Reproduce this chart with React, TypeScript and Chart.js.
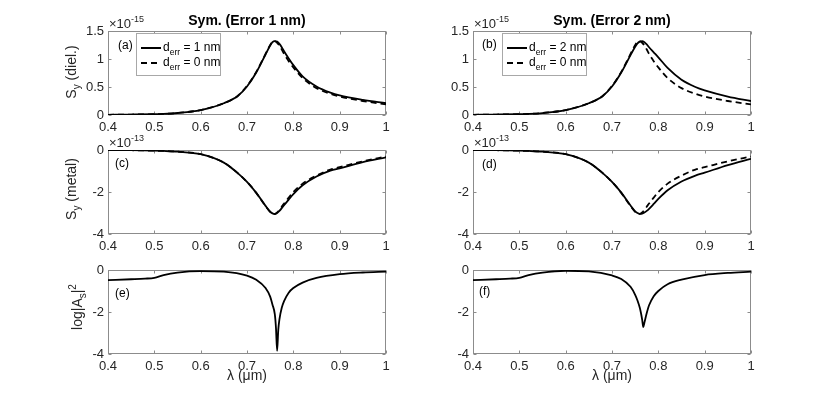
import React, { useEffect, useRef } from "react";
import { Chart, registerables } from "chart.js";
Chart.register(...registerables);

// ---------- data ----------
const lambdaS = [0.40, 0.45, 0.50, 0.52, 0.55, 0.60, 0.65, 0.68, 0.70, 0.72, 0.74, 0.75, 0.755, 0.76, 0.765, 0.77, 0.775, 0.78, 0.79, 0.80, 0.82, 0.85, 0.88, 0.90, 0.95, 1.00];

// S_y (diel.) x 1e-15
const dielErr1 = [0.003, 0.008, 0.015, 0.02, 0.036, 0.088, 0.21, 0.34, 0.51, 0.76, 1.08, 1.24, 1.3, 1.32, 1.31, 1.27, 1.21, 1.14, 1.01, 0.89, 0.69, 0.51, 0.4, 0.35, 0.27, 0.21];
const dielErr0 = [0.003, 0.008, 0.015, 0.02, 0.036, 0.088, 0.21, 0.34, 0.52, 0.77, 1.09, 1.25, 1.31, 1.32, 1.29, 1.24, 1.17, 1.09, 0.96, 0.85, 0.66, 0.48, 0.38, 0.33, 0.25, 0.19];
const dielErr2 = [0.003, 0.008, 0.015, 0.02, 0.035, 0.087, 0.21, 0.34, 0.51, 0.76, 1.07, 1.22, 1.28, 1.31, 1.32, 1.3, 1.26, 1.21, 1.12, 1.03, 0.84, 0.63, 0.5, 0.44, 0.33, 0.25];

// S_y (metal) x 1e-13
const metalErr1 = [0, -0.01, -0.03, -0.045, -0.08, -0.2, -0.6, -1.1, -1.52, -2.04, -2.66, -2.94, -3.02, -3.05, -3.0, -2.9, -2.77, -2.63, -2.36, -2.1, -1.68, -1.26, -0.98, -0.87, -0.58, -0.35];
const metalErr0 = [0, -0.01, -0.03, -0.045, -0.08, -0.2, -0.6, -1.1, -1.52, -2.04, -2.67, -2.95, -3.03, -3.04, -2.97, -2.85, -2.7, -2.55, -2.27, -2.0, -1.6, -1.22, -0.93, -0.82, -0.54, -0.31];
const metalErr2 = [0, -0.01, -0.03, -0.045, -0.08, -0.2, -0.6, -1.1, -1.52, -2.03, -2.64, -2.92, -3.0, -3.04, -3.03, -2.98, -2.9, -2.8, -2.57, -2.33, -1.92, -1.5, -1.22, -1.08, -0.72, -0.42];

const lambdaA = [0.40, 0.45, 0.48, 0.50, 0.52, 0.55, 0.60, 0.65, 0.70, 0.72, 0.74, 0.75, 0.755, 0.76, 0.7625, 0.765, 0.7675, 0.77, 0.775, 0.78, 0.79, 0.80, 0.82, 0.85, 0.90, 0.95, 1.00];
// log|A_s|^2
const logAErr1 = [-0.48, -0.44, -0.41, -0.37, -0.24, -0.12, -0.05, -0.08, -0.27, -0.47, -0.86, -1.27, -1.65, -2.1, -2.75, -3.85, -2.85, -2.35, -1.8, -1.48, -1.08, -0.86, -0.6, -0.38, -0.2, -0.12, -0.08];
const logAErr2 = [-0.48, -0.44, -0.41, -0.37, -0.24, -0.12, -0.04, -0.07, -0.26, -0.43, -0.8, -1.18, -1.45, -1.8, -2.05, -2.35, -2.72, -2.5, -2.05, -1.68, -1.25, -1.0, -0.68, -0.46, -0.24, -0.14, -0.08];

const xTicks = [0.4, 0.5, 0.6, 0.7, 0.8, 0.9, 1.0];
const yTicksDiel = [0, 0.5, 1, 1.5];
const yTicksMetal = [-4, -2, 0];
const yTicksLog = [-4, -2, 0];

// ---------- layout ----------
const FONT = '"Liberation Sans", Arial, Helvetica, sans-serif';
const TXT = "#262626";
const PW = 278;
const PH = 84;
const COLS = [108, 473];
const ROWS = [31, 150, 270];
const ML = 50, MR = 8, MT = 6, MB = 24;
const LW = 1.8;

const fmt = (v: number) => String(Number(v.toFixed(2)));

const boxPlugin = {
  id: "matlabBox",
  beforeDatasetsDraw(chart: any) {
    const { ctx, chartArea: a, scales } = chart;
    const x = scales.x, y = scales.y;
    const L = Math.round(a.left) + 0.5, R = Math.round(a.right) - 0.5;
    const T = Math.round(a.top) + 0.5, B = Math.round(a.bottom) - 0.5;
    ctx.save();
    ctx.strokeStyle = "#8c8c8c";
    ctx.lineWidth = 1;
    ctx.strokeRect(L, T, R - L, B - T);
    ctx.beginPath();
    const tl = 3;
    x.ticks.forEach((t: any) => {
      const px = Math.round(x.getPixelForValue(t.value)) + 0.5;
      ctx.moveTo(px, B); ctx.lineTo(px, B - tl);
      ctx.moveTo(px, T); ctx.lineTo(px, T + tl);
    });
    y.ticks.forEach((t: any) => {
      const py = Math.round(y.getPixelForValue(t.value)) + 0.5;
      ctx.moveTo(L, py); ctx.lineTo(L + tl, py);
      ctx.moveTo(R, py); ctx.lineTo(R - tl, py);
    });
    ctx.stroke();
    ctx.restore();
  },
};

type Series = { xs: number[]; ys: number[]; dashed?: boolean };

function Panel(props: { left: number; top: number; series: Series[]; yMin: number; yMax: number; yTicks: number[] }) {
  const ref = useRef<HTMLCanvasElement>(null);
  const W = PW + ML + MR;
  const H = PH + MT + MB;
  useEffect(() => {
    if (!ref.current) return;
    const chart = new Chart(ref.current, {
      type: "line",
      data: {
        datasets: props.series.map((s) => ({
          data: s.xs.map((x, i) => ({ x, y: s.ys[i] })),
          borderColor: "#000000",
          borderWidth: LW,
          borderDash: s.dashed ? [6, 4] : [],
          pointRadius: 0,
          fill: false,
          cubicInterpolationMode: "monotone" as const,
        })),
      },
      options: {
        animation: false,
        responsive: false,
        maintainAspectRatio: false,
        devicePixelRatio: 1,
        layout: { padding: { top: MT, right: MR, left: 0, bottom: 0 } },
        plugins: { legend: { display: false }, tooltip: { enabled: false }, title: { display: false } },
        scales: {
          x: {
            type: "linear",
            min: 0.4,
            max: 1,
            grid: { display: false, drawTicks: false },
            border: { display: false },
            afterBuildTicks: (s: any) => { s.ticks = xTicks.map((v) => ({ value: v })); },
            ticks: { padding: 5, color: TXT, font: { family: FONT, size: 13 }, maxRotation: 0, autoSkip: false, callback: (v: any) => fmt(Number(v)) },
            afterFit: (s: any) => { s.height = MB; s.paddingLeft = 0; s.paddingRight = 0; },
          },
          y: {
            type: "linear",
            min: props.yMin,
            max: props.yMax,
            grid: { display: false, drawTicks: false },
            border: { display: false },
            afterBuildTicks: (s: any) => { s.ticks = props.yTicks.map((v) => ({ value: v })); },
            ticks: { padding: 4, color: TXT, font: { family: FONT, size: 13 }, autoSkip: false, callback: (v: any) => fmt(Number(v)) },
            afterFit: (s: any) => { s.width = ML; s.paddingTop = 0; s.paddingBottom = 0; },
          },
        },
      } as any,
      plugins: [boxPlugin],
    });
    return () => chart.destroy();
  }, []);
  return (
    <canvas
      ref={ref}
      width={W}
      height={H}
      style={{ position: "absolute", left: props.left - ML, top: props.top - MT, width: W, height: H, display: "block" }}
    />
  );
}

const txt = (extra: React.CSSProperties): React.CSSProperties => ({
  position: "absolute",
  fontFamily: FONT,
  color: TXT,
  whiteSpace: "nowrap",
  lineHeight: 1,
  ...extra,
});

function Exponent({ left, top, exp }: { left: number; top: number; exp: string }) {
  return (
    <div style={txt({ left, top, fontSize: 13 })}>
      ×10<span style={{ fontSize: 9, position: "relative", top: -6 }}>{exp}</span>
    </div>
  );
}

function Legend({ left, err }: { left: number; err: string }) {
  const row = (dashed: boolean, val: string, cy: number) => (
    <div style={{ position: "absolute", left: 0, top: cy, width: 85, height: 0 }}>
      <div
        style={{
          position: "absolute",
          left: 4,
          top: -1,
          width: 20,
          height: LW,
          background: dashed ? "repeating-linear-gradient(to right, #000 0px, #000 6px, transparent 6px, transparent 10px)" : "#000",
        }}
      />
      <div style={txt({ left: 26, top: -7, fontSize: 12, color: "#000" })}>
        d<span style={{ fontSize: 8.5, position: "relative", top: 4 }}>err</span> = {val} nm
      </div>
    </div>
  );
  return (
    <div style={{ position: "absolute", left, top: 33, width: 85, height: 43, boxSizing: "border-box", border: "1px solid #a8a8a8", background: "#fff" }}>
      {row(false, err, 14)}
      {row(true, "0", 29)}
    </div>
  );
}

function YLabel({ cx, cy, children }: { cx: number; cy: number; children: React.ReactNode }) {
  return (
    <div style={txt({ left: cx, top: cy, fontSize: 14, transform: "translate(-50%, -50%) rotate(-90deg)" })}>{children}</div>
  );
}

export default function App() {
  const panelLabels = [
    { t: "(a)", x: COLS[0] + 10, y: ROWS[0] + 8 },
    { t: "(b)", x: COLS[1] + 9, y: ROWS[0] + 7 },
    { t: "(c)", x: COLS[0] + 7, y: ROWS[1] + 7 },
    { t: "(d)", x: COLS[1] + 9, y: ROWS[1] + 8 },
    { t: "(e)", x: COLS[0] + 7, y: ROWS[2] + 17 },
    { t: "(f)", x: COLS[1] + 6, y: ROWS[2] + 15 },
  ];
  return (
    <div style={{ position: "absolute", left: 0, top: 0, width: 830, height: 398, overflow: "hidden", background: "#fff" }}>
      <Panel left={COLS[0]} top={ROWS[0]} yMin={0} yMax={1.5} yTicks={yTicksDiel}
        series={[{ xs: lambdaS, ys: dielErr1 }, { xs: lambdaS, ys: dielErr0, dashed: true }]} />
      <Panel left={COLS[1]} top={ROWS[0]} yMin={0} yMax={1.5} yTicks={yTicksDiel}
        series={[{ xs: lambdaS, ys: dielErr2 }, { xs: lambdaS, ys: dielErr0, dashed: true }]} />
      <Panel left={COLS[0]} top={ROWS[1]} yMin={-4} yMax={0} yTicks={yTicksMetal}
        series={[{ xs: lambdaS, ys: metalErr1 }, { xs: lambdaS, ys: metalErr0, dashed: true }]} />
      <Panel left={COLS[1]} top={ROWS[1]} yMin={-4} yMax={0} yTicks={yTicksMetal}
        series={[{ xs: lambdaS, ys: metalErr2 }, { xs: lambdaS, ys: metalErr0, dashed: true }]} />
      <Panel left={COLS[0]} top={ROWS[2]} yMin={-4} yMax={0} yTicks={yTicksLog}
        series={[{ xs: lambdaA, ys: logAErr1 }]} />
      <Panel left={COLS[1]} top={ROWS[2]} yMin={-4} yMax={0} yTicks={yTicksLog}
        series={[{ xs: lambdaA, ys: logAErr2 }]} />

      <div style={txt({ left: COLS[0] + PW / 2, top: 13, fontSize: 14, fontWeight: "bold", color: "#000", transform: "translateX(-50%)" })}>Sym. (Error 1 nm)</div>
      <div style={txt({ left: COLS[1] + PW / 2, top: 13, fontSize: 14, fontWeight: "bold", color: "#000", transform: "translateX(-50%)" })}>Sym. (Error 2 nm)</div>

      <Exponent left={COLS[0] + 1} top={ROWS[0] - 14} exp="-15" />
      <Exponent left={COLS[1] + 1} top={ROWS[0] - 14} exp="-15" />
      <Exponent left={COLS[0] + 1} top={ROWS[1] - 14} exp="-13" />
      <Exponent left={COLS[1] + 1} top={ROWS[1] - 14} exp="-13" />

      {panelLabels.map((p) => (
        <div key={p.t} style={txt({ left: p.x, top: p.y, fontSize: 12, color: "#000" })}>{p.t}</div>
      ))}

      <Legend left={COLS[0] + 28} err="1" />
      <Legend left={COLS[1] + 29} err="2" />

      <YLabel cx={71} cy={72}>S<span style={{ fontSize: 10, position: "relative", top: 4 }}>y</span> (diel.)</YLabel>
      <YLabel cx={71} cy={189}>S<span style={{ fontSize: 10, position: "relative", top: 4 }}>y</span> (metal)</YLabel>
      <YLabel cx={77} cy={307}>log|A<span style={{ fontSize: 10, position: "relative", top: 4 }}>s</span>|<span style={{ fontSize: 10, position: "relative", top: -6 }}>2</span></YLabel>

      <div style={txt({ left: COLS[0] + PW / 2, top: 368, fontSize: 14, transform: "translateX(-50%)" })}>λ (μm)</div>
      <div style={txt({ left: COLS[1] + PW / 2, top: 368, fontSize: 14, transform: "translateX(-50%)" })}>λ (μm)</div>
    </div>
  );
}
